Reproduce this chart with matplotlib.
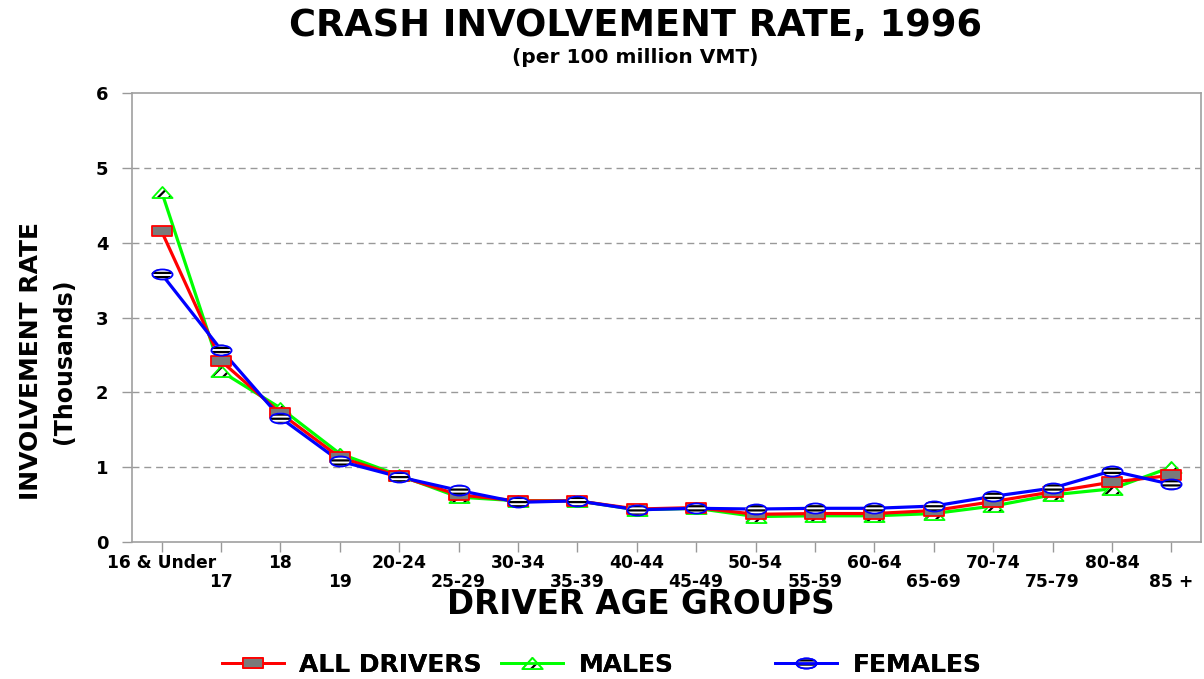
import numpy as np
import matplotlib
matplotlib.use("Agg")
import matplotlib.pyplot as plt
from matplotlib.path import Path
from matplotlib.transforms import Affine2D
from matplotlib.lines import Line2D
from matplotlib.legend_handler import HandlerTuple

plt.rcParams['font.family'] = ['DejaVu Sans']
plt.rcParams['font.weight'] = 'bold'
plt.rcParams['hatch.linewidth'] = 1.6
plt.rcParams['hatch.color'] = 'black'

# ---- data ----
age_groups = ['16 & Under', '17', '18', '19', '20-24', '25-29', '30-34', '35-39',
              '40-44', '45-49', '50-54', '55-59', '60-64', '65-69', '70-74',
              '75-79', '80-84', '85 +']
all_drivers = [4.15, 2.42, 1.72, 1.13, 0.88, 0.63, 0.55, 0.55, 0.44, 0.46,
               0.37, 0.38, 0.38, 0.42, 0.54, 0.67, 0.80, 0.89]
males = [4.68, 2.28, 1.79, 1.18, 0.89, 0.60, 0.55, 0.55, 0.43, 0.45,
         0.34, 0.35, 0.35, 0.38, 0.48, 0.63, 0.71, 1.00]
females = [3.58, 2.57, 1.66, 1.08, 0.87, 0.69, 0.53, 0.55, 0.43, 0.45,
           0.44, 0.45, 0.45, 0.48, 0.61, 0.72, 0.95, 0.77]
y_ticks = [0, 1, 2, 3, 4, 5, 6]

# ---- markers (wide shapes) ----
rect_m = Path([(-1, -0.5), (1, -0.5), (1, 0.5), (-1, 0.5), (-1, -0.5)],
              [Path.MOVETO, Path.LINETO, Path.LINETO, Path.LINETO, Path.CLOSEPOLY])
tri_m = Path([(-1, -0.55), (1, -0.55), (0, 0.55), (-1, -0.55)],
             [Path.MOVETO, Path.LINETO, Path.LINETO, Path.CLOSEPOLY])
ell_m = Path.unit_circle().transformed(Affine2D().scale(1.0, 0.5))

fig = plt.figure(figsize=(12.04, 6.79), dpi=100)
ax = fig.add_axes([0.1096, 0.2018, 0.8879, 0.6612])

x = np.arange(len(age_groups))
ms = 14.5

# lines
ax.plot(x, males, color='#00ff00', lw=2.3, zorder=2)
ax.plot(x, all_drivers, color='#ff0000', lw=2.3, zorder=2.1)
ax.plot(x, females, color='#0000ff', lw=2.3, zorder=2.2)

# markers: males (hatched triangle)
sc_m = ax.scatter(x, males, marker=tri_m, s=ms**2, facecolor='white',
                  edgecolor='black', linewidths=0, hatch='///', zorder=3)
ax.plot(x, males, ls='none', marker=tri_m, ms=ms, mfc='none',
        mec='#00ff00', mew=1.3, zorder=3.05)
# all drivers (gray square)
ax.plot(x, all_drivers, ls='none', marker=rect_m, ms=ms, mfc='#7a7a7a',
        mec='#ff0000', mew=1.3, zorder=3.1)
# females (striped ellipse)
sc_f = ax.scatter(x, females, marker=ell_m, s=ms**2, facecolor='white',
                  edgecolor='black', linewidths=0, hatch='----', zorder=3.2)
ax.plot(x, females, ls='none', marker=ell_m, ms=ms, mfc='none',
        mec='#0000ff', mew=1.3, zorder=3.25)

# axes styling
ax.set_xlim(-0.5, len(age_groups) - 0.5)
ax.set_ylim(0, 6)
ax.set_yticks(y_ticks)
ax.set_yticklabels([str(v) for v in y_ticks], fontsize=13, fontweight='bold')
ax.set_xticks(x)
ax.set_xticklabels(age_groups, fontsize=12.3, fontweight='bold')
ax.tick_params(axis='x', length=7, width=1, color='#999999', pad=2)
ax.tick_params(axis='y', length=7, width=1, color='#999999', pad=10)
for i, tk in enumerate(ax.xaxis.get_major_ticks()):
    if i % 2 == 1:
        tk.set_pad(15)
for s in ax.spines.values():
    s.set_color('#a0a0a0')
    s.set_linewidth(1.2)
for yv in y_ticks[1:-1]:
    ax.axhline(yv, color='#999999', lw=1, ls=(0, (5, 3.5)), zorder=1)

# texts
fig.text(0.528, 0.963, 'CRASH INVOLVEMENT RATE, 1996', ha='center', va='center',
         fontsize=26.5, fontweight='bold')
fig.text(0.528, 0.916, '(per 100 million VMT)', ha='center', va='center',
         fontsize=14.5, fontweight='bold')
fig.text(0.026, 0.468, 'INVOLVEMENT RATE', rotation=90, ha='center', va='center',
         fontsize=18, fontweight='bold')
fig.text(0.053, 0.468, '(Thousands)', rotation=90, ha='center', va='center',
         fontsize=17, fontweight='bold')
fig.text(0.532, 0.109, 'DRIVER AGE GROUPS', ha='center', va='center',
         fontsize=23.5, fontweight='bold')

# legend (three separate entries)
def add_leg(handles, label, xpos):
    lg = fig.legend([handles], [label], loc='center left', bbox_to_anchor=(xpos, 0.021),
                    frameon=False, handlelength=2.5, handletextpad=0.6,
                    borderpad=0, borderaxespad=0,
                    numpoints=1, scatterpoints=1, scatteryoffsets=[0.5],
                    prop={'size': 18, 'weight': 'bold'},
                    handler_map={tuple: HandlerTuple(ndivide=1)})
    fig.add_artist(lg)

h_all = Line2D([], [], color='#ff0000', lw=2, marker=rect_m, ms=ms, mfc='#7a7a7a',
               mec='#ff0000', mew=1.3)
h_m = Line2D([], [], color='#00ff00', lw=2, marker=tri_m, ms=ms, mfc='none',
             mec='#00ff00', mew=1.3)
h_f = Line2D([], [], color='#0000ff', lw=2, marker=ell_m, ms=ms, mfc='none',
             mec='#0000ff', mew=1.3)
add_leg((h_all,), 'ALL DRIVERS', 0.184)
add_leg((sc_m, h_m), 'MALES', 0.416)
add_leg((sc_f, h_f), 'FEMALES', 0.6435)

fig.savefig('out.png', dpi=100)
